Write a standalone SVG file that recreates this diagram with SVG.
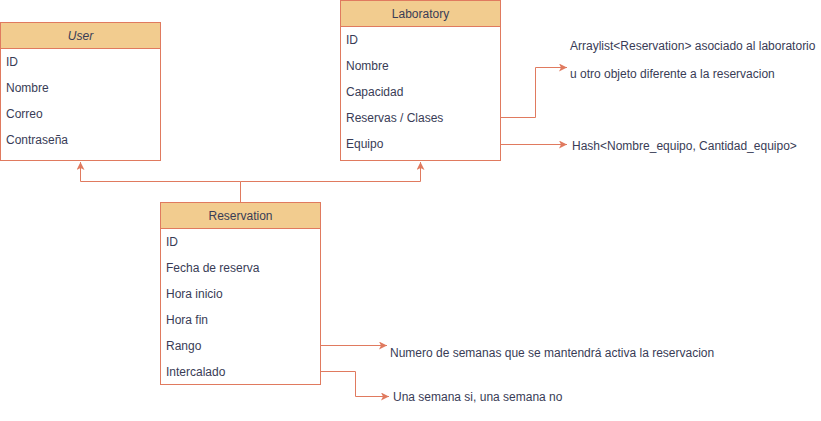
<svg xmlns="http://www.w3.org/2000/svg" width="821" height="421" viewBox="0 0 821 421">
<defs>
<marker id="arr" viewBox="0 0 10 10" refX="10" refY="5" markerWidth="8" markerHeight="8" markerUnits="userSpaceOnUse" orient="auto">
<path d="M0,0 L10,5 L0,10 L2.5,5 Z" fill="#E07A5F"/>
</marker>
</defs>
<style>
text{font-family:"Liberation Sans",Arial,sans-serif;font-size:12px;fill:#393C56}
.hdr{fill:#F2CC8F;stroke:#E07A5F;stroke-width:1}
.body{fill:#FFFFFF;stroke:#E07A5F;stroke-width:1}
.c{fill:none;stroke:#E07A5F;stroke-width:1}
.t{text-anchor:middle}
</style>
<rect width="821" height="421" fill="#FFFFFF"/>
<g id="User">
<rect class="body" x="0.5" y="22.5" width="160" height="138"/>
<rect class="hdr" x="0.5" y="22.5" width="160" height="26"/>
<text class="t" x="80.5" y="40" font-style="italic">User</text>
<text x="6" y="66">ID</text>
<text x="6" y="92">Nombre</text>
<text x="6" y="118">Correo</text>
<text x="6" y="144">Contraseña</text>
</g>
<g id="Laboratory">
<rect class="body" x="340.5" y="0.5" width="160" height="160"/>
<rect class="hdr" x="340.5" y="0.5" width="160" height="26"/>
<text class="t" x="420.5" y="18">Laboratory</text>
<text x="346" y="44">ID</text>
<text x="346" y="70">Nombre</text>
<text x="346" y="96">Capacidad</text>
<text x="346" y="122">Reservas / Clases</text>
<text x="346" y="148">Equipo</text>
</g>
<g id="Reservation">
<rect class="body" x="160.5" y="202.5" width="160" height="182"/>
<rect class="hdr" x="160.5" y="202.5" width="160" height="26"/>
<text class="t" x="240.5" y="220">Reservation</text>
<text x="166" y="246">ID</text>
<text x="166" y="272">Fecha de reserva</text>
<text x="166" y="298">Hora inicio</text>
<text x="166" y="324">Hora fin</text>
<text x="166" y="350">Rango</text>
<text x="166" y="376">Intercalado</text>
</g>
<g id="notes">
<text x="570" y="50">Arraylist&lt;Reservation&gt; asociado al laboratorio</text>
<text x="570" y="78">u otro objeto diferente a la reservacion</text>
<text x="572" y="150">Hash&lt;Nombre_equipo, Cantidad_equipo&gt;</text>
<text x="390" y="357">Numero de semanas que se mantendrá activa la reservacion</text>
<text x="393" y="401">Una semana si, una semana no</text>
</g>
<g id="connectors">
<path class="c" d="M240.5,202 V181.5 H80.5 V162" marker-end="url(#arr)"/>
<path class="c" d="M240.5,181.5 H420.5 V162" marker-end="url(#arr)"/>
<path class="c" d="M501,117.5 H535.5 V67.5 H567" marker-end="url(#arr)"/>
<path class="c" d="M501,144.5 H567" marker-end="url(#arr)"/>
<path class="c" d="M321,345.5 H387" marker-end="url(#arr)"/>
<path class="c" d="M321,371.5 H355.5 V396.5 H389" marker-end="url(#arr)"/>
</g>
</svg>
